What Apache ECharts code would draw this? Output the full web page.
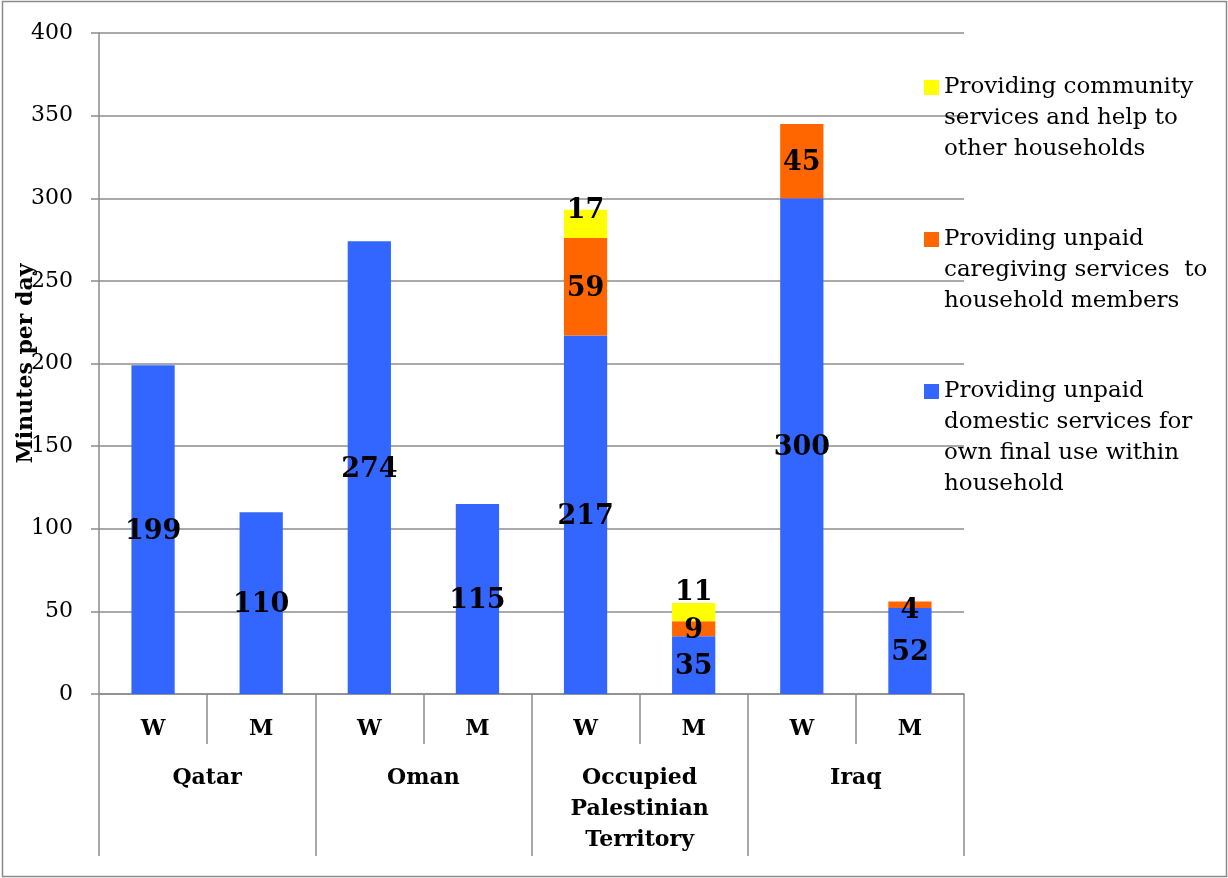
<!DOCTYPE html>
<html>
<head>
<meta charset="utf-8">
<script src="https://cdn.jsdelivr.net/npm/echarts@6/dist/echarts.min.js"></script>
<style>
html,body{margin:0;padding:0;background:#fff;}
#chart{width:1228px;height:878px;}
</style>
</head>
<body>
<div id="chart"></div>
<script>
// ---- data ----
const sexLabels = ['W', 'M', 'W', 'M', 'W', 'M', 'W', 'M'];
const countries = ['Qatar', 'Oman', 'Occupied\nPalestinian\nTerritory', 'Iraq'];
const seriesNames = [
  'Providing unpaid domestic services for own final use within household',
  'Providing unpaid caregiving services  to household members',
  'Providing community services and help to other households'
];
const legendTexts = [
  'Providing unpaid\ndomestic services for\nown final use within\nhousehold',
  'Providing unpaid\ncaregiving services  to\nhousehold members',
  'Providing community\nservices and help to\nother households'
];
const domestic   = [199, 110, 274, 115, 217, 35, 300, 52];
const caregiving = [null, null, null, null, 59, 9, 45, 4];
const community  = [null, null, null, null, 17, 11, null, null];
const yTicks = { min: 0, max: 400, interval: 50 };

// ---- styling ----
const SERIF = 'DejaVu Serif';
const colors = ['#3366FF', '#FF6600', '#FFFF00'];
const gridColor = '#8c8c8c';
const LH = 31;
const labelOffsets = [{}, { 7: [0, 6] }, { 4: [0, -13], 5: [0, -19] }];

function buildData(arr, si) {
  return arr.map((v, i) => {
    if (labelOffsets[si][i]) {
      return { value: v, label: { offset: labelOffsets[si][i] } };
    }
    return v;
  });
}

const valueArrays = [domestic, caregiving, community];
const series = valueArrays.map((arr, si) => ({
  name: seriesNames[si],
  type: 'bar',
  stack: 'total',
  barWidth: '40%',
  itemStyle: { color: colors[si] },
  label: {
    show: true,
    position: 'inside',
    offset: [0, 2],
    color: '#000',
    fontFamily: SERIF,
    fontWeight: 'bold',
    fontSize: 27
  },
  data: buildData(arr, si)
}));

// icon top positions of the legend squares
const iconTops = [383, 231, 79];
const legends = seriesNames.map((n, si) => {
  const lines = legendTexts[si].split('\n').length;
  // prepend empty lines so that the first text line sits beside the icon
  const txt = '\n'.repeat(lines - 1) + legendTexts[si];
  const top = iconTops[si] + 8.5 - (2 * lines - 1) * LH / 2;
  return {
    data: [n],
    left: 924,
    top: top,
    padding: 0,
    orient: 'vertical',
    itemWidth: 15,
    itemHeight: 15,
    selectedMode: false,
    icon: 'rect',
    formatter: () => txt,
    textStyle: {
      fontFamily: SERIF,
      fontSize: 23,
      lineHeight: LH,
      color: '#000'
    }
  };
});

const chart = echarts.init(document.getElementById('chart'), null, { renderer: 'canvas' });
chart.setOption({
  animation: false,
  backgroundColor: '#fff',
  grid: { left: 99, right: 264, top: 33, bottom: 184, outerBoundsMode: 'none', containLabel: false },
  legend: legends,
  xAxis: [
    {
      type: 'category',
      data: sexLabels,
      position: 'bottom',
      axisLine: { show: true, lineStyle: { color: gridColor, width: 1.5 } },
      axisTick: { show: true, length: 50, interval: 0, lineStyle: { color: gridColor, width: 1.5 } },
      axisLabel: {
        interval: 0, margin: 20, color: '#000', fontFamily: SERIF,
        fontWeight: 'bold', fontSize: 22, lineHeight: LH
      }
    },
    {
      type: 'category',
      data: countries,
      position: 'bottom',
      offset: 50,
      axisLine: { show: false },
      axisTick: { show: true, length: 112, interval: 0, lineStyle: { color: gridColor, width: 1.5 } },
      axisLabel: {
        interval: 0, margin: 19, color: '#000', fontFamily: SERIF,
        fontWeight: 'bold', fontSize: 22, lineHeight: LH, align: 'center'
      }
    }
  ],
  yAxis: {
    type: 'value',
    min: yTicks.min,
    max: yTicks.max,
    interval: yTicks.interval,
    name: 'Minutes per day',
    nameLocation: 'middle',
    nameRotate: 90,
    nameGap: 62,
    nameMoveOverlap: false,
    nameTextStyle: { fontFamily: SERIF, fontWeight: 'bold', fontSize: 22, color: '#000' },
    axisLine: { show: true, lineStyle: { color: gridColor, width: 1.5 } },
    axisTick: { show: true, length: 8, lineStyle: { color: gridColor, width: 1.5 } },
    axisLabel: { margin: 26, color: '#000', fontFamily: SERIF, fontSize: 22 },
    splitLine: { show: true, lineStyle: { color: gridColor, width: 1.5 } }
  },
  graphic: [{
    type: 'rect',
    shape: { x: 2.5, y: 1.5, width: 1224, height: 875 },
    style: { fill: 'none', stroke: '#8a8a8a', lineWidth: 1.5 },
    silent: true
  }],
  series: series
});
</script>
</body>
</html>
